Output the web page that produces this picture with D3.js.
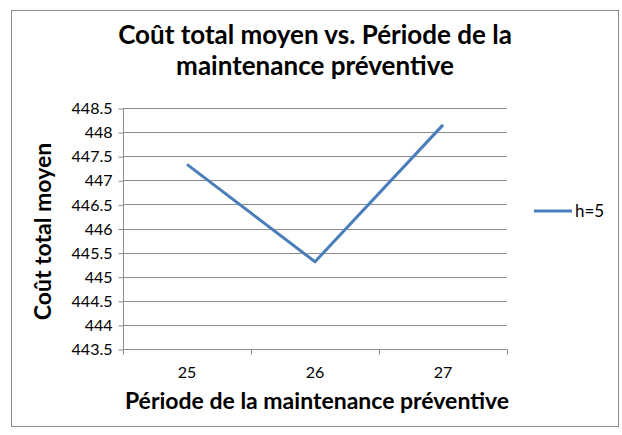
<!DOCTYPE html>
<html>
<head>
<meta charset="utf-8">
<script src="https://cdn.jsdelivr.net/npm/d3@7"></script>
<style>
  body { margin: 0; background: #fff; }
  text { font-family: Lato, "Open Sans", sans-serif; }
</style>
</head>
<body>
<div id="chart"></div>
<script>
// data
var periods = ["25", "26", "27"];
var coutMoyen = [447.33, 445.31, 448.15];
var seriesName = "h=5";
var yTicks = [443.5, 444, 444.5, 445, 445.5, 446, 446.5, 447, 447.5, 448, 448.5];

var W = 622, H = 435;
var plotLeft = 123, plotRight = 507, plotTop = 108, plotBottom = 349;

var svg = d3.select("#chart").append("svg")
  .attr("width", W)
  .attr("height", H);

// outer frame
svg.append("rect")
  .attr("x", 11.5).attr("y", 10.5)
  .attr("width", 607).attr("height", 416)
  .attr("fill", "#fff")
  .attr("stroke", "#8c8c8c")
  .attr("stroke-width", 1);

var x = d3.scaleBand().domain(periods).range([plotLeft, plotRight]);
var y = d3.scaleLinear().domain([443.5, 448.5]).range([plotBottom, plotTop]);

// gridlines
svg.append("g")
  .selectAll("line")
  .data(yTicks.slice(1))
  .enter()
  .append("line")
  .attr("x1", plotLeft).attr("x2", plotRight)
  .attr("y1", function(d){ return Math.round(y(d)) + 0.5; })
  .attr("y2", function(d){ return Math.round(y(d)) + 0.5; })
  .attr("stroke", "#8c8c8c");

// y axis
var yAxis = svg.append("g")
  .attr("transform", "translate(" + (plotLeft + 0.5) + ",0.5)")
  .call(d3.axisLeft(y).tickValues(yTicks).tickSize(5).tickPadding(6)
    .tickFormat(function(d){ return d; }));
yAxis.selectAll("path, line").attr("stroke", "#8c8c8c");
yAxis.select(".domain").attr("d", "M0," + plotTop + "V" + plotBottom);
yAxis.selectAll("text").attr("font-size", 16).attr("fill", "#000")
  .style("font-family", "Lato, sans-serif");

// x axis, ticks between categories
var xAxis = svg.append("g")
  .attr("transform", "translate(0," + (plotBottom + 0.5) + ")");
xAxis.append("line")
  .attr("x1", plotLeft).attr("x2", plotRight)
  .attr("stroke", "#8c8c8c");
var bounds = periods.map(function(p){ return x(p); }).concat([x(periods[periods.length - 1]) + x.bandwidth()]);
xAxis.selectAll(".tk")
  .data(bounds)
  .enter()
  .append("line")
  .attr("x1", function(d){ return Math.round(d) + 0.5; })
  .attr("x2", function(d){ return Math.round(d) + 0.5; })
  .attr("y1", 0).attr("y2", 5)
  .attr("stroke", "#8c8c8c");
xAxis.selectAll(".lbl")
  .data(periods)
  .enter()
  .append("text")
  .attr("x", function(d){ return x(d) + x.bandwidth() / 2; })
  .attr("y", 28)
  .attr("text-anchor", "middle")
  .attr("font-size", 16)
  .text(function(d){ return d; });

// series line
var line = d3.line()
  .x(function(d, i){ return x(periods[i]) + x.bandwidth() / 2; })
  .y(function(d){ return y(d); });

svg.append("path")
  .datum(coutMoyen)
  .attr("d", line)
  .attr("fill", "none")
  .attr("stroke", "#4a7ebb")
  .attr("stroke-width", 3)
  .attr("stroke-linejoin", "round");

// legend
svg.append("line")
  .attr("x1", 534).attr("x2", 572)
  .attr("y1", 211).attr("y2", 211)
  .attr("stroke", "#4a7ebb")
  .attr("stroke-width", 3);
svg.append("text")
  .attr("x", 575).attr("y", 217)
  .attr("font-size", 17)
  .text(seriesName);

// titles
var title = svg.append("text")
  .attr("text-anchor", "middle")
  .attr("font-size", 26)
  .attr("font-weight", "bold");
title.append("tspan").attr("x", 315).attr("y", 44).text("Coût total moyen vs. Période de la");
title.append("tspan").attr("x", 315).attr("y", 75).text("maintenance préventive");

svg.append("text")
  .attr("x", 317).attr("y", 409)
  .attr("text-anchor", "middle")
  .attr("font-size", 23)
  .attr("font-weight", "bold")
  .text("Période de la maintenance préventive");

svg.append("text")
  .attr("transform", "translate(51," + ((plotTop + plotBottom) / 2 + 3) + ") rotate(-90)")
  .attr("text-anchor", "middle")
  .attr("font-size", 23)
  .attr("font-weight", "bold")
  .text("Coût total moyen");
</script>
</body>
</html>
